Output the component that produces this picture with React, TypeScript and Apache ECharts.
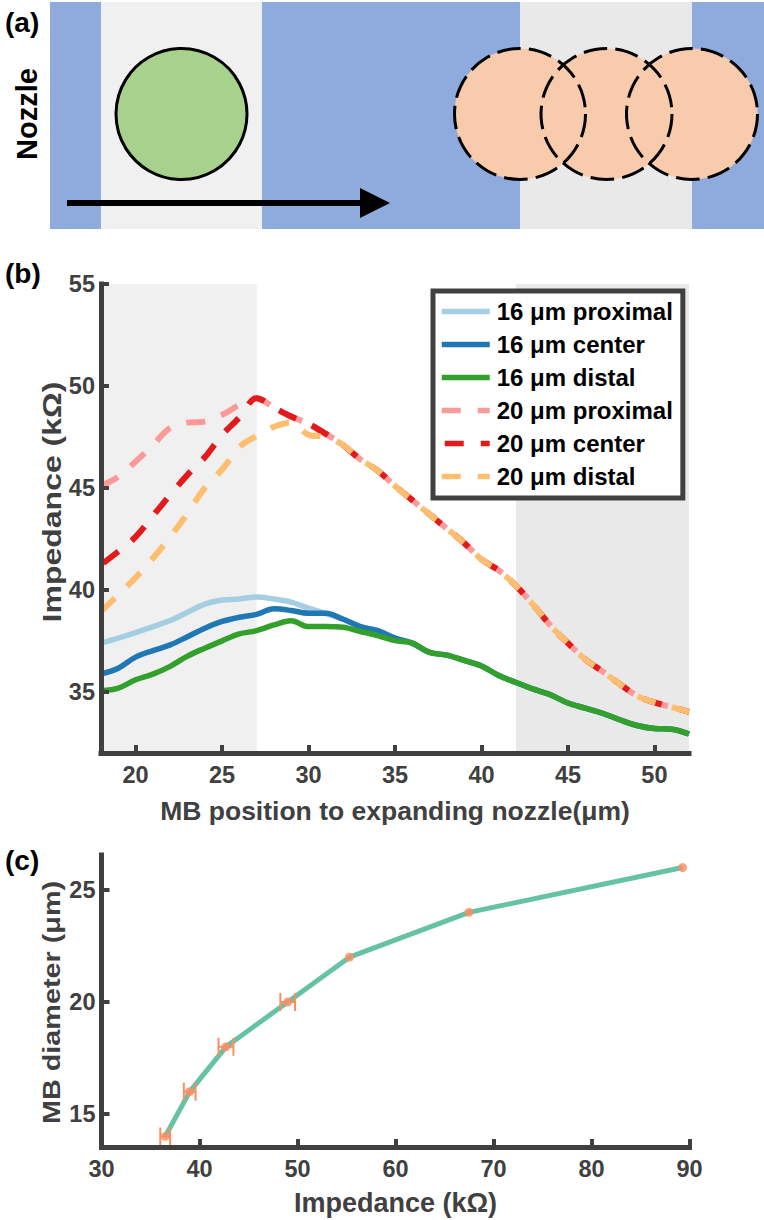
import React, { useEffect, useRef } from "react";
import * as echarts from "echarts";

const FONT = '"Liberation Sans", Arial, sans-serif';
const INK = "#404040";

const positions = [18,19,20,21,22,23,24,25,26,27,28,29,30,31,32,33,34,35,36,37,38,39,40,41,42,43,44,45,46,47,48,49,50,51,52];
const d16Proximal = [37.39,37.63,37.9,38.2,38.5,38.9,39.3,39.5,39.55,39.65,39.55,39.4,39.1,38.85,38.56,38.2,38.0,37.63,37.39,36.93,36.8,36.54,36.27,35.8,35.46,35.13,34.85,34.45,34.2,33.95,33.63,33.35,33.2,33.17,32.93];
const d16Center = [35.88,36.16,36.7,37.02,37.3,37.7,38.12,38.45,38.66,38.8,39.07,38.99,38.85,38.85,38.56,38.2,38.0,37.63,37.39,36.93,36.8,36.54,36.27,35.8,35.46,35.13,34.85,34.45,34.2,33.95,33.63,33.35,33.2,33.17,32.93];
const d16Distal = [35.05,35.18,35.59,35.87,36.25,36.75,37.14,37.5,37.84,38.0,38.28,38.48,38.2,38.2,38.17,37.96,37.76,37.51,37.39,36.93,36.8,36.54,36.27,35.8,35.46,35.13,34.85,34.45,34.2,33.95,33.63,33.35,33.2,33.17,32.93];
const d20Proximal = [45.1,45.55,46.29,47.1,47.95,48.2,48.25,48.58,49.07,49.4,48.94,48.5,48.14,47.65,47.1,46.4,45.85,45.1,44.4,43.7,43.0,42.3,41.5,40.95,40.2,39.26,38.24,37.39,36.6,36.0,35.38,34.8,34.48,34.25,34.02];
const d20Center = [41.23,41.88,42.6,43.63,44.66,45.64,46.5,47.6,48.45,49.4,48.94,48.5,48.14,47.65,47.1,46.4,45.85,45.1,44.4,43.7,43.0,42.3,41.5,40.95,40.2,39.26,38.24,37.39,36.6,36.0,35.38,34.8,34.48,34.25,34.02];
const d20Distal = [38.95,39.75,40.6,41.55,42.6,43.75,45.0,45.9,47.0,47.55,48.0,48.2,47.6,47.5,47.1,46.4,45.85,45.1,44.4,43.7,43.0,42.3,41.5,40.95,40.2,39.26,38.24,37.39,36.6,36.0,35.38,34.8,34.48,34.25,34.02];

const xTicksB = [20,25,30,35,40,45,50];
const yTicksB = [35,40,45,50,55];
const xTicksC = [30,40,50,60,70,80,90];
const yTicksC = [15,20,25];

const impedance = [36.5,39.0,42.7,49.0,55.3,67.5,89.3];
const diameter = [14,16,18,20,22,24,26];
const impedanceErr = [0.5,0.6,0.76,0.75,0,0,0];

const solid = (name: string, color: string, values: number[]) => ({
  name, type: "line", xAxisIndex: 0, yAxisIndex: 0, symbol: "none", smooth: 0.35,
  data: values.map((v, i) => [positions[i], v]),
  lineStyle: { color, width: 5.5, cap: "butt", join: "round" },
  itemStyle: { color },
  z: 3,
});
const dashed = (name: string, color: string, values: number[], dashOffset: number, z: number) => ({
  name, type: "line", xAxisIndex: 0, yAxisIndex: 0, symbol: "none", smooth: 0.35,
  data: values.map((v, i) => [positions[i], v]),
  lineStyle: { color, width: 6, type: [19, 17], dashOffset, cap: "butt", join: "round" },
  itemStyle: { color },
  z,
});

const baseAxis = (gridIndex: number, min: number, max: number, ticks: number[], margin: number) => ({
  type: "value", gridIndex, min, max, z: 10,
  splitLine: { show: false },
  axisLine: { show: true, onZero: false, lineStyle: { color: INK, width: 5, cap: "square" } },
  axisTick: { show: true, inside: true, length: 8, customValues: ticks, lineStyle: { color: INK, width: 4 } },
  axisLabel: { customValues: ticks, margin, color: INK, fontFamily: FONT, fontWeight: "bold", fontSize: 23.5 },
  nameLocation: "middle",
});

const circleX = [520, 606.5, 692];
const panelA: any[] = [
  { type: "rect", shape: { x: 50, y: 2, width: 714, height: 227 }, style: { fill: "#8FAADC" } },
  { type: "rect", shape: { x: 101, y: 2, width: 161, height: 227 }, style: { fill: "#F0F0F0" } },
  { type: "rect", shape: { x: 520, y: 2, width: 172, height: 227 }, style: { fill: "#E9E9E9" } },
  { type: "circle", shape: { cx: 181.5, cy: 114, r: 65.5 }, style: { fill: "#A9D18E", stroke: "#000", lineWidth: 3 } },
  ...circleX.map((cx) => ({ type: "circle", shape: { cx, cy: 114, r: 65.5 }, style: { fill: "#F8CBAD" } })),
  ...circleX.map((cx) => ({
    type: "circle", shape: { cx, cy: 114, r: 65.5 },
    style: { fill: "none", stroke: "#000", lineWidth: 3, lineDash: [23.5, 8.2] },
  })),
  { type: "rect", shape: { x: 67, y: 200, width: 295, height: 6 }, style: { fill: "#000" } },
  { type: "polygon", shape: { points: [[360, 188], [390, 203], [360, 218]] }, style: { fill: "#000" } },
  { type: "text", x: 27, y: 114, rotation: Math.PI / 2,
    style: { text: "Nozzle", font: `bold 29px ${FONT}`, fill: "#000", textAlign: "center", textVerticalAlign: "middle" } },
  { type: "text", x: 5, y: 22, style: { text: "(a)", font: `bold 28px ${FONT}`, fill: "#000", textVerticalAlign: "middle" } },
  { type: "text", x: 5, y: 273, style: { text: "(b)", font: `bold 28px ${FONT}`, fill: "#000", textVerticalAlign: "middle" } },
  { type: "text", x: 5, y: 860, style: { text: "(c)", font: `bold 28px ${FONT}`, fill: "#000", textVerticalAlign: "middle" } },
  { type: "text", x: 52, y: 502, rotation: Math.PI / 2, scaleX: 1.28, z: 20,
    style: { text: "Impedance (kΩ)", font: `bold 25px ${FONT}`, fill: INK, textAlign: "center", textVerticalAlign: "middle" } },
  { type: "text", x: 52, y: 1002.5, rotation: Math.PI / 2, scaleX: 1.2, z: 20,
    style: { text: "MB diameter (μm)", font: `bold 24px ${FONT}`, fill: INK, textAlign: "center", textVerticalAlign: "middle" } },
];

export default function App() {
  const ref = useRef<HTMLDivElement>(null);
  useEffect(() => {
    document.body.style.margin = "0";
    const chart = echarts.init(ref.current!, undefined, { renderer: "svg" });
    const first: any = solid("16 μm proximal", "#A6CEE3", d16Proximal);
    first.z = 2;
    first.markArea = {
      silent: true,
      data: [
        [{ xAxis: 18, itemStyle: { color: "#F0F0F0" } }, { xAxis: 27 }],
        [{ xAxis: 42, itemStyle: { color: "#E9E9E9" } }, { xAxis: 52 }],
      ],
    };
    chart.setOption({
      animation: false,
      backgroundColor: "#fff",
      textStyle: { fontFamily: FONT },
      graphic: panelA,
      grid: [
        { left: 101, right: 75, top: 284, height: 469 },
        { left: 101.5, right: 74.5, top: 855, height: 292 },
      ],
      xAxis: [
        { ...baseAxis(0, 18, 52, xTicksB, 10), name: "MB position to expanding nozzle(μm)",
          nameGap: 44.5, nameTextStyle: { color: INK, fontFamily: FONT, fontWeight: "bold", fontSize: 26.5 } },
        { ...baseAxis(1, 30, 90, xTicksC, 10), name: "Impedance (kΩ)",
          nameGap: 42, nameTextStyle: { color: INK, fontFamily: FONT, fontWeight: "bold", fontSize: 27 } },
      ],
      yAxis: [
        baseAxis(0, 32, 55, yTicksB, 6),
        baseAxis(1, 13.53, 26.56, yTicksC, 6),
      ],
      legend: {
        left: 433, top: 291, orient: "vertical", selectedMode: false, z: 20,
        data: ["16 μm proximal", "16 μm center", "16 μm distal", "20 μm proximal", "20 μm center", "20 μm distal"],
        backgroundColor: "#fff", borderColor: INK, borderWidth: 5, borderRadius: 0,
        padding: [7, 10, 8, 6],
        itemWidth: 48, itemHeight: 20, itemGap: 6,
        itemStyle: { opacity: 0 },
        lineStyle: { width: 5.5, opacity: 1 },
        textStyle: { color: "#000", fontFamily: FONT, fontWeight: "bold", fontSize: 24, lineHeight: 27, padding: [0, 0, 0, 2] },
      },
      series: [
        first,
        solid("16 μm center", "#1F78B4", d16Center),
        solid("16 μm distal", "#33A02C", d16Distal),
        dashed("20 μm proximal", "#FB9A99", d20Proximal, 0, 3),
        dashed("20 μm center", "#E31A1C", d20Center, 33, 4),
        dashed("20 μm distal", "#FDBF6F", d20Distal, 0, 5),
        {
          name: "fit", type: "line", xAxisIndex: 1, yAxisIndex: 1, symbol: "none",
          data: impedance.map((x, i) => [x, diameter[i]]),
          lineStyle: { color: "#66C2A5", width: 5 }, z: 3,
        },
        {
          name: "error", type: "custom", xAxisIndex: 1, yAxisIndex: 1, clip: false, z: 4,
          data: impedance.map((x, i) => [x, diameter[i], impedanceErr[i]]),
          encode: { x: 0, y: 1 },
          renderItem: (_p: any, api: any) => {
            const err = api.value(2);
            if (!err) return { type: "group", children: [] };
            const lo = api.coord([api.value(0) - err, api.value(1)]);
            const hi = api.coord([api.value(0) + err, api.value(1)]);
            const style = { stroke: "#FC8D62", lineWidth: 2, fill: "none" };
            const seg = (x1: number, y1: number, x2: number, y2: number) => ({ type: "line", shape: { x1, y1, x2, y2 }, style });
            return {
              type: "group",
              children: [
                seg(lo[0], lo[1], hi[0], hi[1]),
                seg(lo[0], lo[1] - 9, lo[0], lo[1] + 9),
                seg(hi[0], hi[1] - 9, hi[0], hi[1] + 9),
              ],
            };
          },
        },
        {
          name: "points", type: "scatter", xAxisIndex: 1, yAxisIndex: 1, symbolSize: 9, z: 5, clip: false,
          data: impedance.map((x, i) => [x, diameter[i]]),
          itemStyle: { color: "#FC8D62" },
        },
      ],
    });
    return () => chart.dispose();
  }, []);
  return <div ref={ref} style={{ width: 764, height: 1220 }} />;
}
